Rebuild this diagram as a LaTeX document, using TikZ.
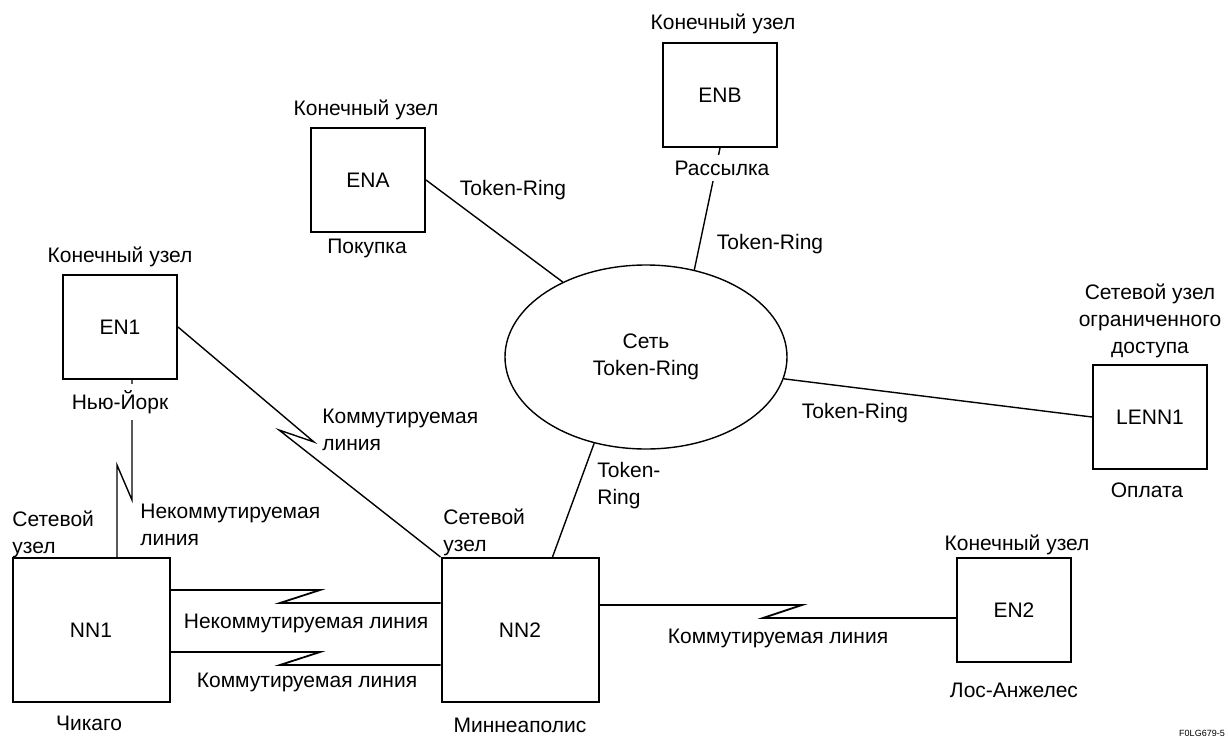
\documentclass[tikz,border=0pt]{standalone}
\usepackage{fontspec}
\setmainfont{Liberation Sans}
\usetikzlibrary{shapes.geometric}

\begin{document}
\begin{tikzpicture}[
    x=0.5pt, y=-0.5pt,
    every node/.style={font=\fontsize{10.5}{13.5}\selectfont, align=center, inner sep=1pt},
    box/.style={draw, line width=1pt, minimum width=57pt, minimum height=52pt},
    bigbox/.style={draw, line width=1pt, minimum width=78.5pt, minimum height=72pt},
    ring/.style={draw, ellipse, line width=0.7pt, minimum width=141pt, minimum height=92pt, inner sep=0pt},
    link/.style={line width=0.7pt},
    wan/.style={line width=0.9pt},
    hide/.style={fill=white, inner sep=3pt},
    side/.style={anchor=west, align=left, inner sep=0pt},
  ]
  \useasboundingbox (0,0) rectangle (1228,740);

  % nodes
  \node[box] (ENA) at (368,180) {ENA};
  \node[box] (ENB) at (720,95) {ENB};
  \node[box] (EN1) at (120,327) {EN1};
  \node[box] (LENN1) at (1150,417) {LENN1};
  \node[box] (EN2) at (1014,610) {EN2};
  \node[bigbox] (NN1) at (91,630) {NN1};
  \node[bigbox] (NN2) at (520,630) {NN2};
  \node[ring] (tr) at (646,357) {Сеть\\Token-Ring};

  % kinks of the lines
  \coordinate (k1a) at (132,500); \coordinate (k1b) at (117,465);
  \coordinate (k2a) at (314,442); \coordinate (k2b) at (279,430);
  \coordinate (k3a) at (320,590); \coordinate (k3b) at (280,603);
  \coordinate (k4a) at (320,652); \coordinate (k4b) at (280,665);
  \coordinate (k5a) at (802,605); \coordinate (k5b) at (763,618);

  % lines
  \draw[link] (ENA.east) -- (tr.138);
  \draw[link] (ENB.south) -- (tr.61);
  \draw[link] (tr.351) -- (LENN1.west);
  \draw[link] (tr.239) -- (NN2.66);
  \draw[link] (EN1.south -| k1a) -- (k1a) -- (k1b) -- (k1b |- NN1.north);
  \draw[link] (EN1.east) -- (k2a) -- (k2b) -- (NN2.north west);
  \draw[wan] (NN1.east |- k3a) -- (k3a) -- (k3b) -- (k3b -| NN2.west);
  \draw[wan] (NN1.east |- k4a) -- (k4a) -- (k4b) -- (k4b -| NN2.west);
  \draw[wan] (NN2.east |- k5a) -- (k5a) -- (k5b) -- (k5b -| EN2.west);

  % labels
  \node (enaTop) at (366,110) {Конечный узел};
  \node (enaBot) at (367,248) {Покупка};
  \node (enbTop) at (723,24) {Конечный узел};
  \node[hide] (enbBot) at (722,168) {Рассылка};
  \node (en1Top) at (120,257) {Конечный узел};
  \node[hide] (en1Bot) at (120,402) {Нью-Йорк};
  \node (lennTop) at (1150,321) {Сетевой узел\\ограниченного\\доступа};
  \node (lennBot) at (1147,490) {Оплата};
  \node (en2Top) at (1017,545) {Конечный узел};
  \node (en2Bot) at (1014,690) {Лос-Анжелес};
  \node (nn1Bot) at (89,723) {Чикаго};
  \node (nn2Bot) at (520,725) {Миннеаполис};
  \node[side] (nn1Top) at (12,534) {Сетевой\\узел};
  \node[side] (nn2Top) at (443,532) {Сетевой\\узел};

  \node[side] (l1) at (140,525) {Некоммутируемая\\линия};
  \node[side] (l2) at (322,430) {Коммутируемая\\линия};
  \node (l3) at (306,623) {Некоммутируемая линия};
  \node (l4) at (307,682) {Коммутируемая линия};
  \node (l5) at (778,638) {Коммутируемая линия};
  \node (t1) at (513,190) {Token-Ring};
  \node (t2) at (770,244) {Token-Ring};
  \node (t3) at (855,413) {Token-Ring};
  \node[side] (t4) at (597,486) {Token-\\Ring};

  \node[font=\fontsize{4.5}{5.5}\selectfont] (figid) at (1202,733) {F0LG679-5};
\end{tikzpicture}
\end{document}
